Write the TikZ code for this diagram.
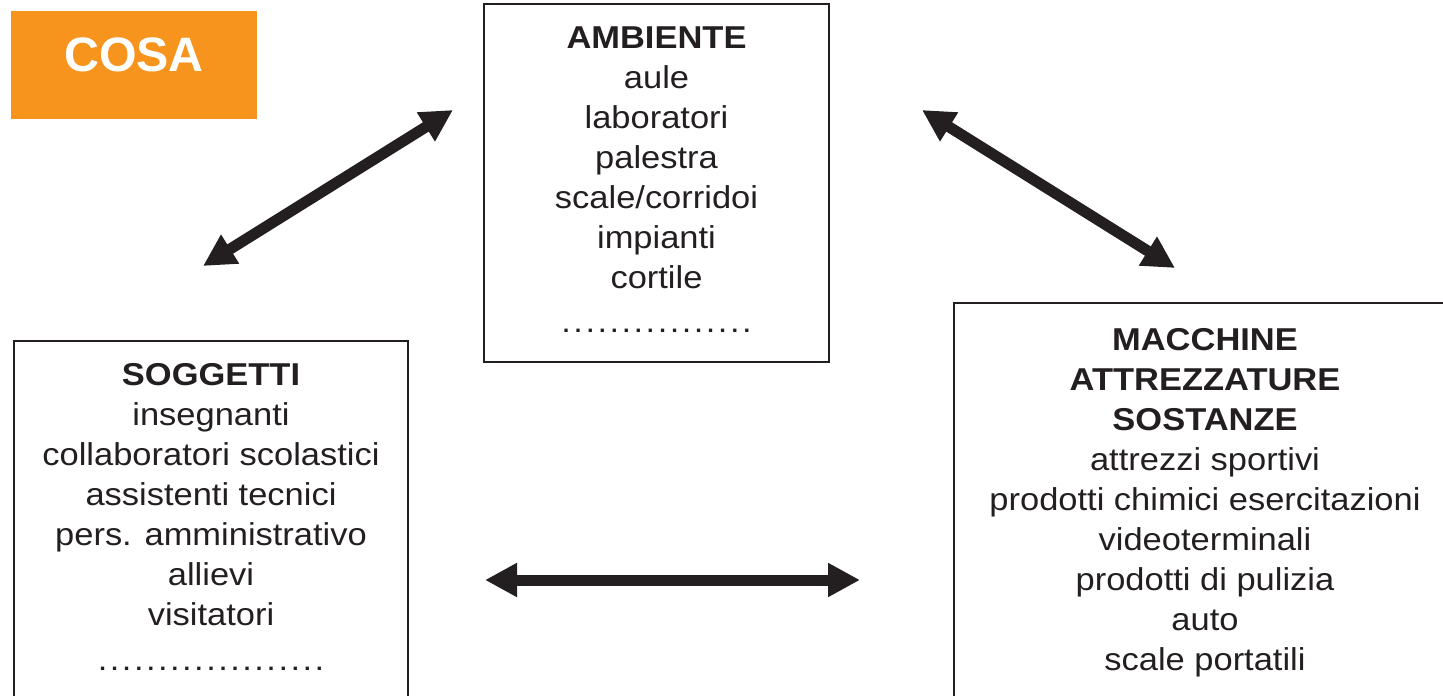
\documentclass[tikz,border=0pt]{standalone}
\usepackage{fontspec}
\setmainfont[FakeStretch=1.09]{Liberation Sans}
\newfontfamily\cosafont{Liberation Sans}
\usetikzlibrary{arrows.meta,positioning}
\definecolor{darkgray}{HTML}{231F20}
\definecolor{cosaorange}{HTML}{F7941E}
\tikzstyle{every picture}=[x=0.02cm,y=-0.02cm]
\tikzstyle{box}=[draw=darkgray,line width=0.04cm,rectangle,inner sep=0]
\tikzstyle{list}=[align=center,inner sep=0,text=darkgray,anchor=north,
    font=\fontsize{18}{22.76}\selectfont]
\tikzstyle{link}=[darkgray,line width=0.22cm,
    {Triangle[length=0.64cm,width=0.64cm]}-{Triangle[length=0.64cm,width=0.64cm]}]
\newcommand{\puntini}[1]{\foreach \k in {1,...,#1}{\ifnum\k>1\hspace{1.4pt}\fi.}}

\begin{document}
\begin{tikzpicture}
            \useasboundingbox (0,0) rectangle (1443,696);
            \clip (0,0) rectangle (1443,696);

            \node[fill=cosaorange,minimum width=4.92cm,minimum height=2.16cm,text depth=0.4cm,
                text=white,font=\cosafont\bfseries\fontsize{27.5}{30}\selectfont] (cosa) at (134,65) {COSA};

            \node[box,minimum width=6.9cm,minimum height=7.16cm] (ambiente) at (656.5,183) {};
            \node[box,minimum width=7.88cm,minimum height=7.58cm] (soggetti) at (211,530.5) {};
            \node[box,minimum width=10.04cm,minimum height=8.34cm] (macchine) at (1205,511.5) {};

            \node[list,below=0.47cm of ambiente.north] (ambienteList)
                {\textbf{AMBIENTE}\\aule\\laboratori\\palestra\\scale/corridoi\\impianti\\cortile\\[0.08cm]\puntini{16}};
            \node[list,below=0.46cm of soggetti.north] (soggettiList)
                {\textbf{SOGGETTI}\\insegnanti\\collaboratori scolastici\\assistenti tecnici\\pers. amministrativo\\allievi\\visitatori\\[0.1cm]\puntini{19}};
            \node[list,below=0.52cm of macchine.north] (macchineList)
                {\textbf{MACCHINE}\\\textbf{ATTREZZATURE}\\\textbf{SOSTANZE}\\attrezzi sportivi\\prodotti chimici esercitazioni\\videoterminali\\prodotti di pulizia\\auto\\scale portatili};

            \coordinate (sogTip) at (203,266);
            \coordinate (ambTipL) at (453,110);
            \coordinate (ambTipR) at (922,110);
            \coordinate (macTip) at (1175,268);
            \coordinate (sogTipB) at (485,580);
            \coordinate (macTipB) at (860,580);

            \draw[link] (sogTip) -- (ambTipL);
            \draw[link] (ambTipR) -- (macTip);
            \draw[link] (sogTipB) -- (macTipB);
        \end{tikzpicture}
\end{document}
